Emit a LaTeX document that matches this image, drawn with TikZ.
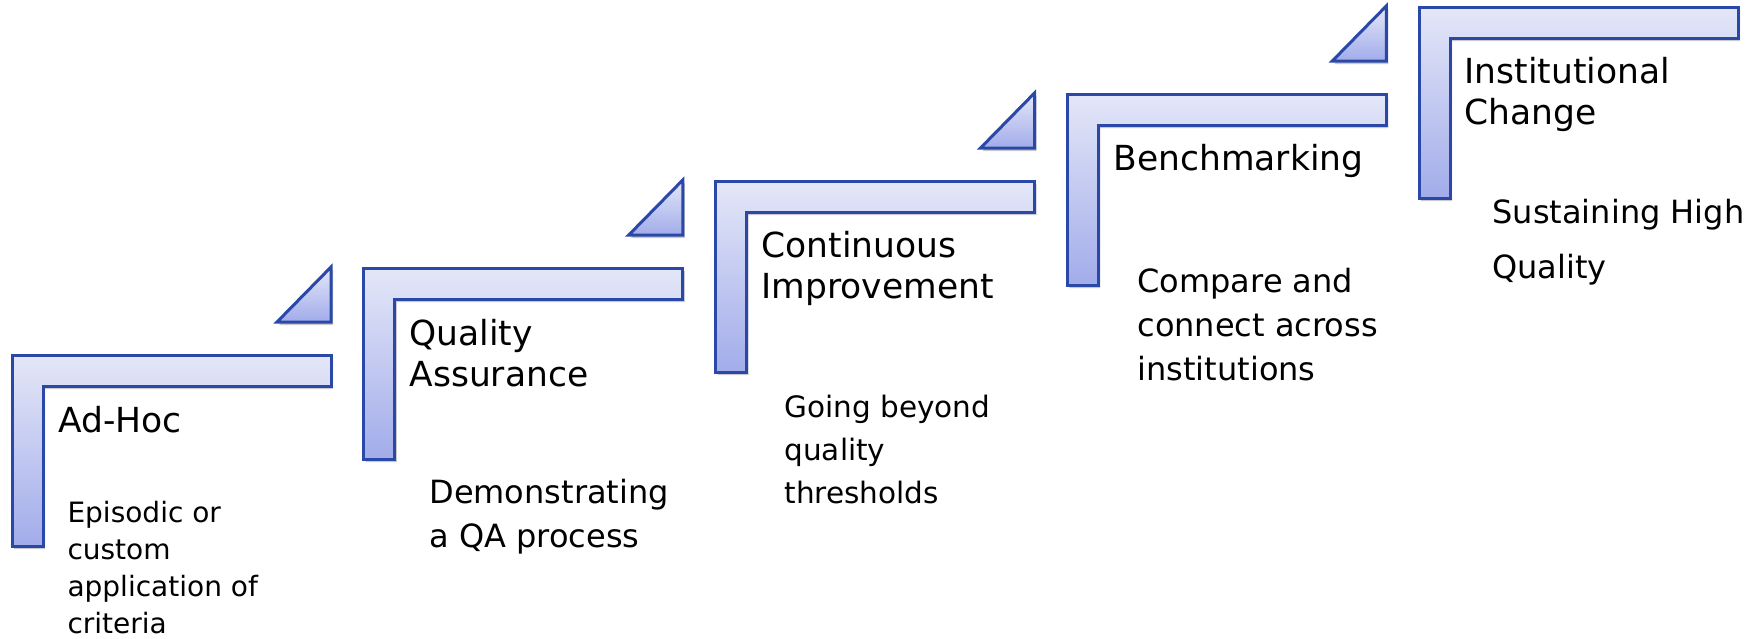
\documentclass[tikz,border=0pt]{standalone}
\usepackage{fontspec}
\setmainfont{DejaVu Sans}
\usetikzlibrary{shadows}

\definecolor{stepLine}{HTML}{2A48A8}
\definecolor{stepTop}{HTML}{E4E7F8}
\definecolor{stepBot}{HTML}{A2ACEA}

\tikzset{every picture/.style={line width=3pt}}
\tikzset{
  stair/.style={draw=stepLine, line join=miter, top color=stepTop, bottom color=stepBot,
    drop shadow={shadow xshift=2pt, shadow yshift=-3pt, opacity=0.35, fill=black!60}},
  title/.style={anchor=base west, inner sep=0pt, align=left, font=\fontsize{34.5}{41.5}\selectfont},
  desc/.style={anchor=base west, inner sep=0pt, align=left}
}

\begin{document}
\begin{tikzpicture}[x=1pt,y=1pt,yscale=-1,xscale=1]
    \useasboundingbox (0,0) rectangle (1760,638);
    %Shape: L step [id:adhoc] 
    \draw [stair]  (12,355) -- (331,355) -- (331,386) -- (43,386) -- (43,546) -- (12,546) -- cycle ;
    %Shape: Right Triangle [id:arrowA] 
    \draw [stair]  (331,267) -- (331,322) -- (277,322) -- cycle ;
    %Shape: L step [id:qa] 
    \draw [stair]  (363.75,268) -- (682.75,268) -- (682.75,299) -- (394.75,299) -- (394.75,459) -- (363.75,459) -- cycle ;
    %Shape: Right Triangle [id:arrowB] 
    \draw [stair]  (682.75,180) -- (682.75,235) -- (628.75,235) -- cycle ;
    %Shape: L step [id:ci] 
    \draw [stair]  (715.5,181) -- (1034.5,181) -- (1034.5,212) -- (746.5,212) -- (746.5,372) -- (715.5,372) -- cycle ;
    %Shape: Right Triangle [id:arrowC] 
    \draw [stair]  (1034.5,93) -- (1034.5,148) -- (980.5,148) -- cycle ;
    %Shape: L step [id:bench] 
    \draw [stair]  (1067.25,94) -- (1386.25,94) -- (1386.25,125) -- (1098.25,125) -- (1098.25,285) -- (1067.25,285) -- cycle ;
    %Shape: Right Triangle [id:arrowD] 
    \draw [stair]  (1386.25,6) -- (1386.25,61) -- (1332.25,61) -- cycle ;
    %Shape: L step [id:inst] 
    \draw [stair]  (1419,7) -- (1738,7) -- (1738,38) -- (1450,38) -- (1450,198) -- (1419,198) -- cycle ;
    % Text Node (base = last line)
    \node [title] (tAdhoc) at (57,432) {Ad-Hoc};
    % Text Node
    \node [title] (tQa) at (408,386.5) {Quality\\Assurance};
    % Text Node
    \node [title] (tCi) at (760,298.5) {Continuous\\Improvement};
    % Text Node
    \node [title] (tBench) at (1112,170) {Benchmarking};
    % Text Node
    \node [title] (tInst) at (1463,124.5) {Institutional\\Change};
    % Text Node
    \node [desc, font=\fontsize{28}{37}\selectfont] (dAdhoc) at (66,633) {Episodic or\\custom\\application of\\criteria};
    % Text Node
    \node [desc, font=\fontsize{32}{44}\selectfont] (dQa) at (428,547) {Demonstrating\\a QA process};
    % Text Node
    \node [desc, font=\fontsize{29.5}{43}\selectfont] (dCi) at (783,503) {Going beyond\\quality\\thresholds};
    % Text Node
    \node [desc, font=\fontsize{32}{44}\selectfont] (dBench) at (1136,380) {Compare and\\connect across\\institutions};
    % Text Node
    \node [desc, font=\fontsize{32}{55}\selectfont] (dInst) at (1491,278) {Sustaining High\\Quality};
\end{tikzpicture}
\end{document}
